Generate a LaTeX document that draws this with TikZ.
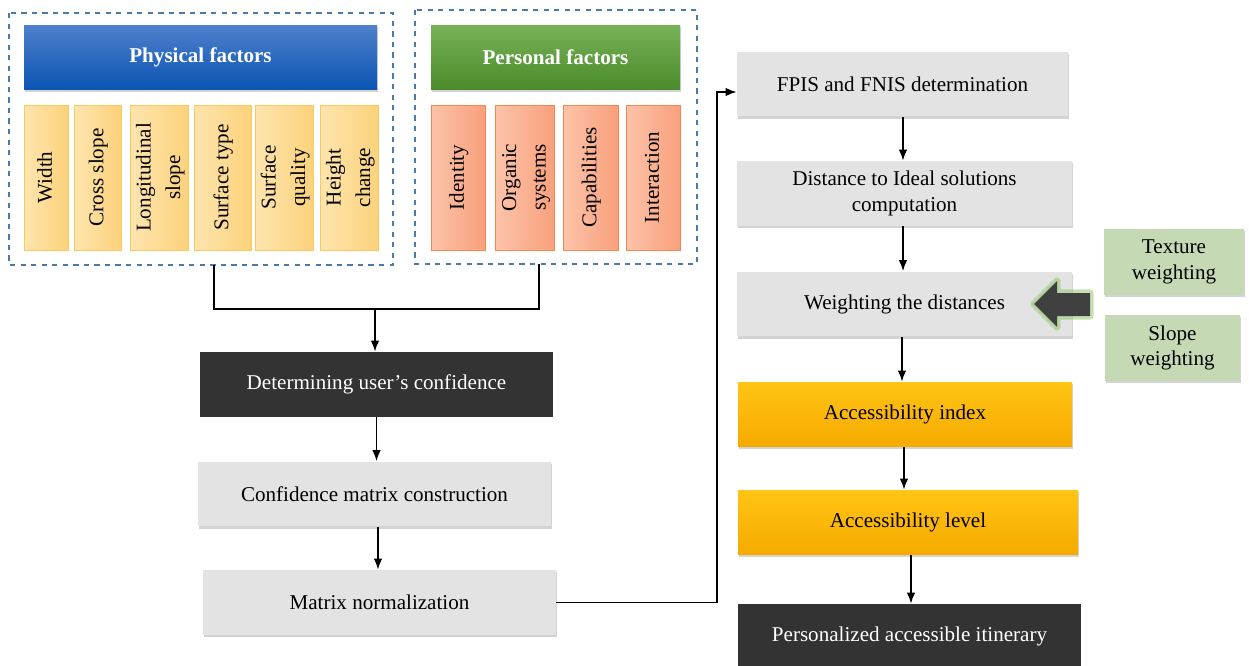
\documentclass[tikz,border=0pt]{standalone}
\usepackage{fontspec}
\setmainfont{Liberation Serif}
\usepackage{xcolor}
\usetikzlibrary{%
	calc,%
	arrows.meta,%
	shadows,%
	positioning
}

\definecolor{procgray}{HTML}{E3E3E3}
\definecolor{inkdark}{HTML}{333333}
\definecolor{grpblue}{HTML}{4A7AA8}
\definecolor{hdrbluetop}{HTML}{4F80CB}
\definecolor{hdrbluebot}{HTML}{0A54B4}
\definecolor{hdrgreentop}{HTML}{78B257}
\definecolor{hdrgreenbot}{HTML}{4A8A2B}
\definecolor{physlight}{HTML}{FEE5AE}
\definecolor{physdark}{HTML}{FCD27B}
\definecolor{physedge}{HTML}{F9C85E}
\definecolor{perslight}{HTML}{FCC3A9}
\definecolor{persdark}{HTML}{F9A07C}
\definecolor{persedge}{HTML}{F2884F}
\definecolor{goldtop}{HTML}{FFC414}
\definecolor{goldbot}{HTML}{F6AA00}
\definecolor{sage}{HTML}{C5D9B4}
\definecolor{glow}{HTML}{8CC466}
\definecolor{blkgray}{HTML}{404040}

\newcommand{\vlab}[1]{\rotatebox{90}{\renewcommand{\arraystretch}{1.15}\begin{tabular}{@{}c@{}}#1\end{tabular}}}

\begin{document}
\begin{tikzpicture}
		[x=0.02cm,y=-0.02cm,
		font=\fontsize{12}{14.5}\selectfont,
		arr/.style={line width=0.9pt,-{Latex[length=2.2mm,width=1.7mm]}},
		grp/.style={draw=grpblue,dashed,line width=0.7pt},
		box/.style={rectangle,inner sep=2pt,align=center,minimum height=1.3cm},
		shad/.style={drop shadow={shadow xshift=0.6pt,shadow yshift=-1.2pt,opacity=0.35}},
		procbox/.style={box,fill=procgray,shad},
		darkbox/.style={box,fill=inkdark,text=white},
		goldbox/.style={box,top color=goldtop,bottom color=goldbot,shad},
		wgtbox/.style={box,fill=sage,shad,minimum height=1.32cm},
		hdrbox/.style={box,text=white,font=\fontsize{12}{14.5}\selectfont\bfseries,shad},
		physcol/.style={rectangle,inner sep=0pt,minimum height=2.9cm,left color=physlight,right color=physdark,draw=physedge,line width=0.5pt},
		perscol/.style={rectangle,inner sep=0pt,minimum height=2.9cm,left color=perslight,right color=persdark,draw=persedge,line width=0.5pt}
		]
		\useasboundingbox (0,0) rectangle (1249,666);
		
		% factor groups
		\draw[grp] (9,13) rectangle (393,265);
		\draw[grp] (415,10) rectangle (697,264);
		\coordinate (g1) at (214,265);
		\coordinate (g2) at (539,264);
		
		\node[hdrbox,top color=hdrbluetop,bottom color=hdrbluebot,minimum width=353*0.02cm] (phys) at (200.5,57.5) {Physical factors};
		\node[hdrbox,top color=hdrgreentop,bottom color=hdrgreenbot,minimum width=249*0.02cm] (pers) at (555.5,57.5) {Personal factors};
		
		\foreach \n/\cx/\w/\t in {wd/46/44/Width,cs/97.5/47/{Cross slope},ls/159.5/57/{Longitudinal\\slope},st/222.5/57/{Surface type},sq/284.5/57/{Surface\\quality},hc/349.5/55/{Height\\change}}
		\node[physcol,minimum width=\w*0.02cm] (\n) at (\cx,177.5) {\vlab{\t}};
		
		\foreach \n/\cx/\w/\t in {id/458/54/Identity,os/525/54/{Organic\\systems},cp/590.5/55/Capabilities,ia/653/54/Interaction}
		\node[perscol,minimum width=\w*0.02cm] (\n) at (\cx,177.5) {\vlab{\t}};
		
		% left chain
		\node[darkbox,minimum width=353*0.02cm] (duc) at (376.5,384.5) {Determining user's confidence};
		\node[procbox,minimum width=353*0.02cm] (cmc) at (374.5,494) {Confidence matrix construction};
		\node[procbox,minimum width=353*0.02cm] (mn) at (379.5,602.5) {Matrix normalization};
		
		\coordinate (jn) at (375,309);
		\draw[line width=0.9pt] (g1) -- (g1 |- jn) -- (g2 |- jn) -- (g2);
		\draw[arr] (jn) -- (jn |- duc.north);
		\draw[arr] (duc) -- (duc |- cmc.north);
		\draw[arr] (cmc.south -| 378,0) -- (mn.north -| 378,0);
		
		% right chain
		\node[procbox,minimum width=331*0.02cm] (fp) at (902.5,84) {FPIS and FNIS determination};
		\node[procbox,minimum width=335*0.02cm] (dis) at (904.5,193.5) {Distance to Ideal solutions\\computation};
		\node[procbox,minimum width=335*0.02cm] (wt) at (904.5,304) {Weighting the distances};
		\node[goldbox,minimum width=334*0.02cm] (ai) at (905,414.5) {Accessibility index};
		\node[goldbox,minimum width=340*0.02cm] (al) at (908,522.5) {Accessibility level};
		\node[darkbox,minimum width=343*0.02cm] (pai) at (909.5,636.5) {Personalized accessible itinerary};
		
		\coordinate (turn) at (717,92);
		\draw[arr] (mn.east) -| (turn) -- (turn -| fp.west);
		\draw[arr] (fp.south -| 903,0) -- (dis.north -| 903,0);
		\draw[arr] (dis.south -| 903,0) -- (wt.north -| 903,0);
		\draw[arr] (wt.south -| 902,0) -- (ai.north -| 902,0);
		\draw[arr] (ai.south -| 904,0) -- (al.north -| 904,0);
		\draw[arr] (al.south -| 911,0) -- (pai.north -| 911,0);
		
		% weighting inputs
		\node[wgtbox,minimum width=140*0.02cm] (tw) at (1174,262) {Texture\\weighting};
		\node[wgtbox,minimum width=135*0.02cm] (sw) at (1172.5,348) {Slope\\weighting};
		\fill[blkgray,preaction={draw=glow,line width=4pt,opacity=0.5,line join=round}]
			(1034,304) -- (1057,281) -- (1057,293) -- (1090,293) -- (1090,316) -- (1057,316) -- (1057,327) -- cycle;
	\end{tikzpicture}
\end{document}
